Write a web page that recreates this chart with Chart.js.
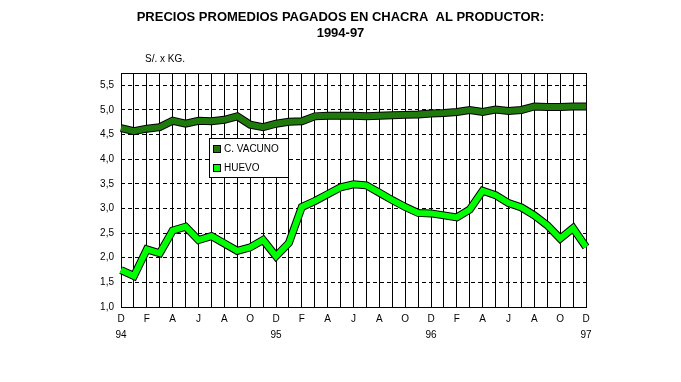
<!DOCTYPE html>
<html>
<head>
<meta charset="utf-8">
<script src="https://cdn.jsdelivr.net/npm/chart.js@4.4.0/dist/chart.umd.min.js"></script>
<style>
    html, body { margin: 0; padding: 0; background: #ffffff; }
</style>
</head>
<body>
<canvas id="preciosChart" width="681" height="382"></canvas>
<script>
// Meses de dic-94 a dic-97 (solo se rotula uno de cada dos)
const monthLabels = ['D', '', 'F', '', 'A', '', 'J', '', 'A', '', 'O', '',
                     'D', '', 'F', '', 'A', '', 'J', '', 'A', '', 'O', '',
                     'D', '', 'F', '', 'A', '', 'J', '', 'A', '', 'O', '',
                     'D'];
const yearLabels = ['94', '95', '96', '97'];

// S/. x KG.
const vacuno = [4.63, 4.57, 4.62, 4.65, 4.78, 4.72, 4.78, 4.77, 4.80, 4.87, 4.70, 4.65,
                4.72, 4.76, 4.77, 4.87, 4.88, 4.88, 4.88, 4.87, 4.88, 4.89, 4.90, 4.91,
                4.93, 4.94, 4.96, 5.00, 4.96, 5.01, 4.98, 5.00, 5.07, 5.06, 5.06, 5.07,
                5.07];
const huevo = [1.75, 1.63, 2.17, 2.09, 2.55, 2.63, 2.36, 2.44, 2.29, 2.14, 2.21, 2.36,
               2.03, 2.30, 3.03, 3.15, 3.29, 3.43, 3.49, 3.47, 3.32, 3.17, 3.03, 2.91,
               2.90, 2.86, 2.82, 2.98, 3.36, 3.27, 3.11, 3.02, 2.86, 2.66, 2.39, 2.60,
               2.22];

const yTicks = [1.0, 1.5, 2.0, 2.5, 3.0, 3.5, 4.0, 4.5, 5.0, 5.5, 5.75];

const titleLines = ['PRECIOS PROMEDIOS PAGADOS EN CHACRA  AL PRODUCTOR:', '1994-97'];

const FONT = '"Liberation Sans", Arial, sans-serif';

const labels = monthLabels.map((m, i) => (i % 12 === 0 ? [m, yearLabels[i / 12]] : m));

// titulo, marco del area de trazado, leyenda y unidad
const extrasPlugin = {
    id: 'extras',
    beforeDatasetsDraw(chart) {
        const {ctx, chartArea: a} = chart;
        ctx.save();
        ctx.strokeStyle = '#000000';
        ctx.lineWidth = 1;
        ctx.strokeRect(Math.round(a.left) + 0.5, Math.round(a.top) + 0.5,
            Math.round(a.right - a.left), Math.round(a.bottom - a.top));
        ctx.restore();
    },
    afterDraw(chart) {
        const ctx = chart.ctx;
        ctx.save();
        ctx.fillStyle = '#000000';
        ctx.textBaseline = 'middle';

        ctx.font = 'bold 13px ' + FONT;
        ctx.textAlign = 'center';
        titleLines.forEach((t, i) => ctx.fillText(t, chart.width / 2, 17 + i * 16));

        ctx.font = '10px ' + FONT;
        ctx.textAlign = 'left';
        ctx.fillText('S/. x KG.', 145, 59);

        // leyenda
        const items = chart.data.datasets.filter(d => d.label);
        ctx.fillStyle = '#ffffff';
        ctx.fillRect(209, 138, 79, 39);
        ctx.strokeStyle = '#000000';
        ctx.lineWidth = 1;
        ctx.strokeRect(209.5, 138.5, 79, 39);
        items.forEach((d, i) => {
            const y = 149 + i * 19;
            ctx.fillStyle = d.borderColor;
            ctx.fillRect(213, y - 4, 8, 8);
            ctx.strokeRect(213.5, y - 3.5, 7, 7);
            ctx.fillStyle = '#000000';
            ctx.fillText(d.label, 224, y);
        });
        ctx.restore();
    }
};

const outline = (data) => ({
    data: data,
    borderColor: '#000000',
    borderWidth: 8,
    pointRadius: 0,
    tension: 0,
    order: 1
});

new Chart(document.getElementById('preciosChart'), {
    type: 'line',
    data: {
        labels: labels,
        datasets: [
            {label: 'C. VACUNO', data: vacuno, borderColor: '#1f7a0c', borderWidth: 6,
             pointRadius: 0, tension: 0, order: 0},
            outline(vacuno),
            {label: 'HUEVO', data: huevo, borderColor: '#00ff00', borderWidth: 6,
             pointRadius: 0, tension: 0, order: 0},
            outline(huevo)
        ]
    },
    options: {
        responsive: false,
        animation: false,
        layout: {padding: {left: 0, right: 95, top: 73, bottom: 0}},
        plugins: {
            legend: {display: false},
            tooltip: {enabled: false},
            title: {display: false}
        },
        scales: {
            x: {
                grid: {color: '#000000', lineWidth: 1, drawTicks: false},
                border: {display: false},
                ticks: {
                    color: '#000000',
                    autoSkip: false,
                    maxRotation: 0,
                    padding: 4,
                    font: {family: FONT, size: 10, lineHeight: 1.6}
                },
                afterFit(scale) { scale.height = 75; }
            },
            y: {
                min: 1,
                max: 5.75,
                afterBuildTicks(axis) { axis.ticks = yTicks.map(v => ({value: v})); },
                grid: {color: '#000000', lineWidth: 1, drawTicks: false},
                border: {display: false, dash: [4, 3]},
                ticks: {
                    color: '#000000',
                    padding: 7,
                    font: {family: FONT, size: 10},
                    callback: v => (v > 5.5 ? '' : v.toFixed(1).replace('.', ','))
                },
                afterFit(scale) { scale.width = 121; }
            }
        }
    },
    plugins: [extrasPlugin]
});
</script>
</body>
</html>
